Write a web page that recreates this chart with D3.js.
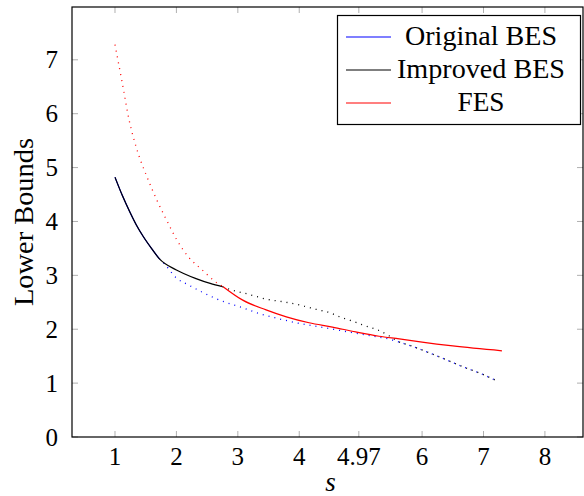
<!DOCTYPE html>
<html>
<head>
<meta charset="utf-8">
<script src="https://cdn.jsdelivr.net/npm/d3@7"></script>
<style>
  html, body { margin: 0; padding: 0; background: #fff; }
  svg text { font-family: "Liberation Serif", "DejaVu Serif", serif; fill: #000; }
</style>
</head>
<body>
<div id="chart"></div>
<script>
// Lower bounds vs s — three series, each switching between solid and dotted

const xTicks = [1, 2, 3, 4, 4.97, 6, 7, 8];
const yTicks = [0, 1, 2, 3, 4, 5, 6, 7];

// Original BES (blue): solid up to its switch point, dotted after
const origS = [1, 1.12, 1.24, 1.35, 1.46, 1.6, 1.72, 1.8, 2.0, 2.2, 2.4, 2.6, 2.8, 3.05, 3.35, 3.65, 3.95, 4.25, 4.55, 4.85, 5.15, 5.45, 5.6, 5.85, 6.1, 6.4, 6.65, 6.95, 7.22];
const origV = [4.82, 4.48, 4.18, 3.93, 3.72, 3.49, 3.31, 3.22, 2.95, 2.82, 2.70, 2.59, 2.50, 2.41, 2.29, 2.20, 2.12, 2.06, 2.00, 1.94, 1.88, 1.82, 1.77, 1.68, 1.57, 1.43, 1.31, 1.18, 1.04];
const origSwitch = 1.72;

// Improved BES (black): solid up to the switch, dotted after
const impS = [1, 1.12, 1.24, 1.35, 1.46, 1.6, 1.72, 2.0, 2.32, 2.55, 2.75, 2.87, 3.17, 3.46, 3.79, 4.08, 4.27, 4.49, 4.68, 4.87, 5.08, 5.27, 5.46, 5.6, 5.85, 6.1, 6.4, 6.65, 6.95, 7.22];
const impV = [4.82, 4.48, 4.18, 3.93, 3.72, 3.49, 3.31, 3.10, 2.94, 2.85, 2.79, 2.74, 2.65, 2.56, 2.50, 2.43, 2.37, 2.31, 2.22, 2.15, 2.06, 1.99, 1.88, 1.78, 1.68, 1.57, 1.43, 1.31, 1.18, 1.04];
const impSwitch = 2.75;

// FES (red): dotted up to the switch, solid after
const fesS = [1, 1.12, 1.23, 1.35, 1.52, 1.68, 1.86, 2.01, 2.19, 2.42, 2.66, 2.76, 3.08, 3.46, 3.79, 4.16, 4.54, 4.92, 5.3, 5.63, 6.0, 6.5, 7.3];
const fesV = [7.28, 6.56, 5.88, 5.36, 4.83, 4.40, 3.98, 3.65, 3.35, 3.10, 2.86, 2.79, 2.54, 2.36, 2.23, 2.12, 2.04, 1.95, 1.87, 1.82, 1.76, 1.69, 1.60];
const fesSwitch = 2.76;

const legendLabels = ["Original BES", "Improved BES", "FES"];

const width = 584, height = 496;
const margin = { top: 7, right: 1, bottom: 59, left: 72 };

const x = d3.scaleLinear().domain([0.3, 8.62]).range([margin.left, width - margin.right]);
const y = d3.scaleLinear().domain([0, 7.98]).range([height - margin.bottom, margin.top]);

const svg = d3.select("#chart").append("svg")
  .attr("width", width)
  .attr("height", height);

const x0 = x.range()[0], x1 = x.range()[1];
const y0 = y.range()[0], y1 = y.range()[1];
const tickLen = 6;

// inner tick marks on all four sides (gray, pgfplots style)
const ticks = svg.append("g").attr("stroke", "#b0b0b0").attr("stroke-width", 1);
xTicks.forEach(t => {
  ticks.append("line").attr("x1", x(t)).attr("x2", x(t)).attr("y1", y0).attr("y2", y0 - tickLen);
  ticks.append("line").attr("x1", x(t)).attr("x2", x(t)).attr("y1", y1).attr("y2", y1 + tickLen);
});
yTicks.forEach(t => {
  ticks.append("line").attr("y1", y(t)).attr("y2", y(t)).attr("x1", x0).attr("x2", x0 + tickLen);
  ticks.append("line").attr("y1", y(t)).attr("y2", y(t)).attr("x1", x1).attr("x2", x1 - tickLen);
});

// tick labels
svg.append("g").selectAll("text")
  .data(xTicks)
  .join("text")
  .attr("x", d => x(d))
  .attr("y", y0 + 28)
  .attr("text-anchor", "middle")
  .attr("font-size", "25px")
  .text(d => d);

svg.append("g").selectAll("text")
  .data(yTicks)
  .join("text")
  .attr("x", x0 - 14)
  .attr("y", d => y(d))
  .attr("dy", "0.34em")
  .attr("text-anchor", "end")
  .attr("font-size", "25px")
  .text(d => d);

// axis titles
svg.append("text")
  .attr("x", (x0 + x1) / 2 + 3)
  .attr("y", height - 5)
  .attr("text-anchor", "middle")
  .attr("font-size", "27px")
  .attr("font-style", "italic")
  .text("s");

svg.append("text")
  .attr("transform", `translate(33, ${(y0 + y1) / 2}) rotate(-90)`)
  .attr("text-anchor", "middle")
  .attr("font-size", "27px")
  .attr("textLength", 168)
  .attr("lengthAdjust", "spacingAndGlyphs")
  .text("Lower Bounds");

// curves
const line = d3.line()
  .x(d => x(d[0]))
  .y(d => y(d[1]))
  .curve(d3.curveMonotoneX);

const plot = svg.append("g");

function drawSeries(sArr, vArr, sw, color, solidFirst) {
  const pts = sArr.map((s, i) => [s, vArr[i]]);
  const before = pts.filter(p => p[0] <= sw);
  const after = pts.filter(p => p[0] >= sw);
  const dotted = "1 5";
  plot.append("path")
    .attr("d", line(before))
    .attr("fill", "none")
    .attr("stroke", color)
    .attr("stroke-width", solidFirst ? 1.2 : 1.3)
    .attr("stroke-dasharray", solidFirst ? null : dotted);
  plot.append("path")
    .attr("d", line(after))
    .attr("fill", "none")
    .attr("stroke", color)
    .attr("stroke-width", solidFirst ? 1.3 : 1.2)
    .attr("stroke-dasharray", solidFirst ? dotted : null);
}

drawSeries(origS, origV, origSwitch, "#0000ff", true);
drawSeries(impS, impV, impSwitch, "#000000", true);
drawSeries(fesS, fesV, fesSwitch, "#ff0000", false);

// frame
svg.append("rect")
  .attr("x", x0)
  .attr("y", y1)
  .attr("width", x1 - x0)
  .attr("height", y0 - y1)
  .attr("fill", "none")
  .attr("stroke", "#000")
  .attr("stroke-width", 1.2);

// legend
const legendColors = ["#0000ff", "#000000", "#ff0000"];
const legendWidths = [152, 168, 47];
const lg = svg.append("g");
lg.append("rect")
  .attr("x", 337.5).attr("y", 15.5)
  .attr("width", 243).attr("height", 109)
  .attr("fill", "#fff")
  .attr("stroke", "#000")
  .attr("stroke-width", 1.2);

legendLabels.forEach((lab, i) => {
  const ly = 37 + i * 33;
  lg.append("line")
    .attr("x1", 346).attr("x2", 391)
    .attr("y1", ly).attr("y2", ly)
    .attr("stroke", legendColors[i])
    .attr("stroke-width", 1.2);
  lg.append("text")
    .attr("x", 481)
    .attr("y", ly + 8)
    .attr("text-anchor", "middle")
    .attr("font-size", "27px")
    .attr("textLength", legendWidths[i])
    .attr("lengthAdjust", "spacingAndGlyphs")
    .text(lab);
});
</script>
</body>
</html>
